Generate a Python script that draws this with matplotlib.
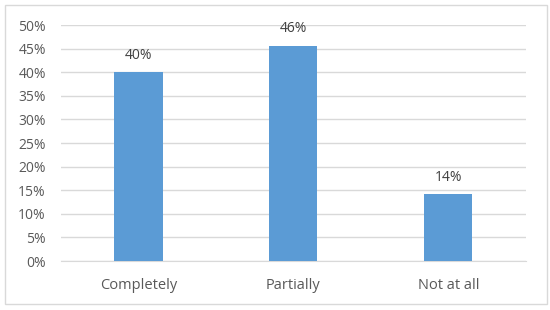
import matplotlib
matplotlib.use("Agg")
import matplotlib.pyplot as plt
from matplotlib.patches import Rectangle

categories = ["Completely", "Partially", "Not at all"]
values = [40.0, 45.6, 14.2]
labels = ["40%", "46%", "14%"]
yticks = [0, 5, 10, 15, 20, 25, 30, 35, 40, 45, 50]

plt.rcParams["font.family"] = ["Open Sans", "DejaVu Sans"]
text_color = "#595959"

fig = plt.figure(figsize=(5.5, 3.1), dpi=100)
ax = fig.add_axes([0.111, 0.158, 0.845, 0.761])

x = range(len(categories))
ax.bar(x, values, width=0.31, color="#5B9BD5", zorder=3)
for xi, v, lab in zip(x, values, labels):
    ax.text(xi, v + 2.0, lab, ha="center", va="bottom", fontsize=10, color="#404040")

ax.set_xlim(-0.5, 2.5)
ax.set_ylim(0, 50)
ax.set_yticks(yticks)
ax.set_yticklabels([f"{t}%" for t in yticks])
ax.set_xticks(list(x))
ax.set_xticklabels(categories)
ax.tick_params(axis="both", length=0, colors=text_color, labelsize=10)
ax.tick_params(axis="x", pad=12, labelsize=10.5)
ax.tick_params(axis="y", pad=11)
ax.grid(axis="y", color="#D9D9D9", linewidth=1, zorder=0)
for s in ["top", "right", "left"]:
    ax.spines[s].set_visible(False)
ax.spines["bottom"].set_color("#D9D9D9")

fig.patches.append(Rectangle((0.009, 0.02), 0.985, 0.963, transform=fig.transFigure,
                             fill=False, edgecolor="#D9D9D9", linewidth=1))

fig.savefig("out.png", dpi=100)
